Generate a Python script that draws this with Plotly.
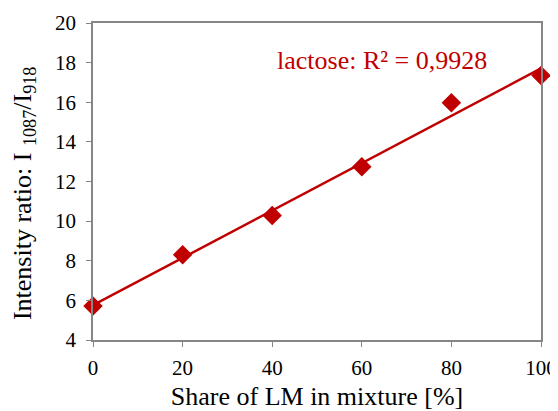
import numpy as np
import plotly.graph_objects as go

share_lm = [0, 20, 40, 60, 80, 100]
intensity_ratio = [5.72, 8.30, 10.28, 12.75, 15.98, 17.35]
x_ticks = [0, 20, 40, 60, 80, 100]
y_ticks = [4, 6, 8, 10, 12, 14, 16, 18, 20]
label_text = "lactose: R² = 0,9928"
x_title = "Share of LM in mixture [%]"
y_title = "Intensity ratio: I <sub>1087</sub>/I<sub>918</sub>"

RED = "#C00000"
GRAY = "#868686"
FONT = "Liberation Serif, Times New Roman, serif"

slope, intercept = np.polyfit(share_lm, intensity_ratio, 1)
fit_x = [share_lm[0], share_lm[-1]]
fit_y = [slope * v + intercept for v in fit_x]

fig = go.Figure()
fig.add_trace(go.Scatter(x=fit_x, y=fit_y, mode="lines",
                         line=dict(color=RED, width=2.5), showlegend=False,
                         cliponaxis=False))
fig.add_trace(go.Scatter(x=share_lm, y=intensity_ratio, mode="markers",
                         marker=dict(symbol="diamond", size=15, color=RED),
                         showlegend=False, cliponaxis=False))

fig.add_annotation(x=0.644, y=0.883, xref="paper", yref="paper",
                   text=label_text, showarrow=False, xanchor="center",
                   yanchor="middle",
                   font=dict(family=FONT, size=26, color=RED))

fig.add_annotation(x=-0.155, y=0.462, xref="paper", yref="paper",
                   text=y_title, showarrow=False, textangle=-90,
                   xanchor="center", yanchor="middle",
                   font=dict(family=FONT, size=26, color="#000"))

fig.update_xaxes(range=[0, 100], tickvals=x_ticks, ticks="outside",
                 ticklen=5, tickcolor=GRAY, linecolor=GRAY, linewidth=1.5,
                 mirror=True, showline=True, showgrid=False, zeroline=False,
                 ticklabelstandoff=3,
                 tickfont=dict(family=FONT, size=21, color="#000"),
                 title=dict(text=x_title,
                            font=dict(family=FONT, size=26, color="#000"),
                            standoff=10))
fig.update_yaxes(range=[4, 20], tickvals=y_ticks, ticks="outside",
                 ticklen=5, tickcolor=GRAY, linecolor=GRAY, linewidth=1.5,
                 mirror=True, showline=True, showgrid=False, zeroline=False,
                 ticklabelstandoff=6,
                 tickfont=dict(family=FONT, size=21, color="#000"))

fig.update_layout(width=550, height=403,
                  margin=dict(l=85, r=17, t=15, b=71, autoexpand=False),
                  plot_bgcolor="white", paper_bgcolor="white")

fig.write_html("out.html")
